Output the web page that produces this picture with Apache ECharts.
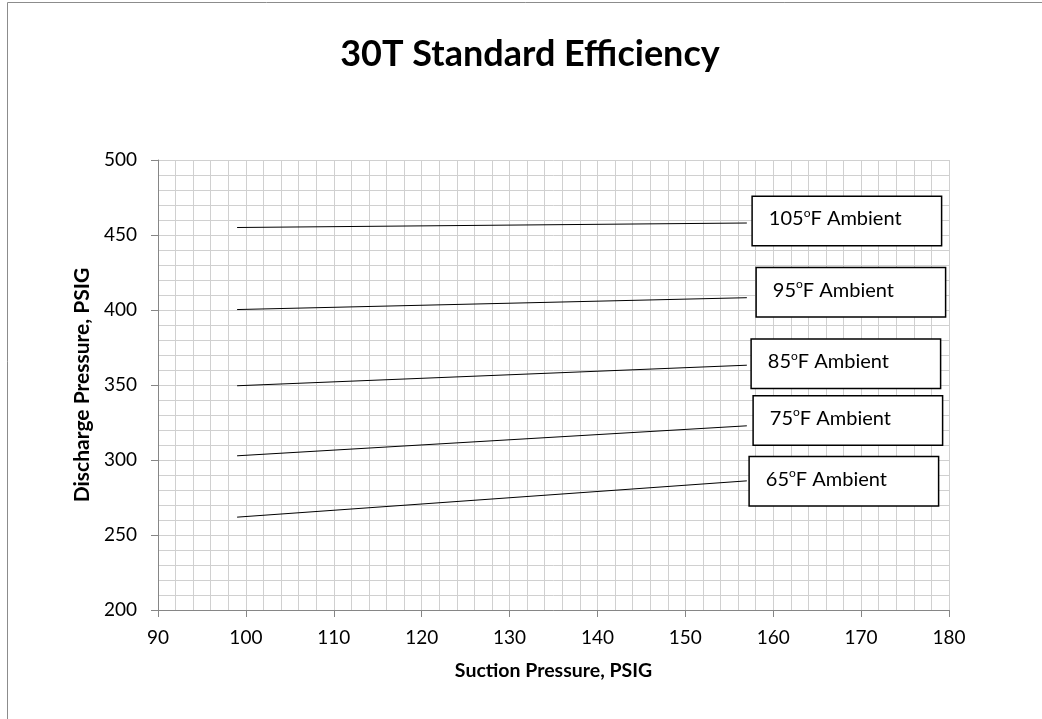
<!DOCTYPE html>
<html>
<head>
<meta charset="utf-8">
<script src="https://cdn.jsdelivr.net/npm/echarts@6/dist/echarts.min.js"></script>
<style>
html,body{margin:0;padding:0;background:#fff;}
#chart{width:1042px;height:719px;}
</style>
</head>
<body>
<div id="chart"></div>
<script>
// ---- data ----
const chartTitle = '30T Standard Efficiency';
const xAxisName = 'Suction Pressure, PSIG';
const yAxisName = 'Discharge Pressure, PSIG';
const suction = [99, 157];
const amb105 = [455, 458];
const amb95 = [400.3, 408.2];
const amb85 = [349.5, 363.2];
const amb75 = [302.8, 322.8];
const amb65 = [261.9, 286.1];
const ambientTemps = ['105', '95', '85', '75', '65'];
const xTicks = [90, 100, 110, 120, 130, 140, 150, 160, 170, 180];
const yTicks = [200, 250, 300, 350, 400, 450, 500];

const FONT = 'Lato, "Open Sans", sans-serif';
const chart = echarts.init(document.getElementById('chart'), null, {renderer: 'canvas'});

function makeSeries(values, temp, offset) {
  return {
    type: 'line',
    name: temp + 'F',
    data: values.map((v, i) => [suction[i], v]),
    symbol: 'none',
    showSymbol: false,
    lineStyle: {color: '#000', width: 1},
    silent: true,
    animation: false,
    endLabel: {
      show: true,
      distance: 0,
      offset: offset,
      formatter: () => '{t|' + temp + '}{s|o}{t|F Ambient}',
      backgroundColor: '#fff',
      borderColor: '#000',
      borderWidth: 1.5,
      padding: [0, 0, 0, 16],
      width: 172,
      height: 48,
      lineHeight: 48,
      align: 'left',
      verticalAlign: 'middle',
      rich: {
        t: {fontFamily: FONT, fontSize: 20, color: '#000', lineHeight: 44},
        s: {fontFamily: FONT, fontSize: 12, color: '#000', lineHeight: 44, padding: [0, 0, 12, 0]}
      }
    }
  };
}

const option = {
  animation: false,
  backgroundColor: '#fff',
  title: {
    text: chartTitle,
    left: 525,
    textAlign: 'center',
    top: 31,
    textStyle: {fontFamily: FONT, fontSize: 36, fontWeight: 'bold', color: '#000'}
  },
  graphic: [{
    type: 'rect',
    shape: {x: 7.5, y: 2.5, width: 1100, height: 800},
    style: {fill: 'none', stroke: '#8c8c8c', lineWidth: 1},
    silent: true,
    z: -10
  }],
  grid: {left: 158, right: 93, top: 160, bottom: 109, containLabel: false},
  xAxis: {
    type: 'value',
    min: xTicks[0],
    max: xTicks[xTicks.length - 1],
    interval: 10,
    name: xAxisName,
    nameLocation: 'middle',
    nameGap: 51,
    nameTextStyle: {fontFamily: FONT, fontSize: 19.5, fontWeight: 'bold', color: '#000'},
    axisLine: {show: true, onZero: false, lineStyle: {color: '#868686', width: 1}},
    axisTick: {show: true, length: 7, lineStyle: {color: '#868686'}},
    axisLabel: {fontFamily: FONT, fontSize: 19, color: '#000', margin: 18},
    splitLine: {show: true, lineStyle: {color: '#d0d0d0', width: 1}},
    minorTick: {show: false, splitNumber: 5},
    minorSplitLine: {show: true, lineStyle: {color: '#d0d0d0', width: 1}}
  },
  yAxis: {
    type: 'value',
    min: yTicks[0],
    max: yTicks[yTicks.length - 1],
    interval: 50,
    name: yAxisName,
    nameLocation: 'middle',
    nameGap: 62,
    nameTextStyle: {fontFamily: FONT, fontSize: 21, fontWeight: 'bold', color: '#000'},
    axisLine: {show: true, onZero: false, lineStyle: {color: '#868686', width: 1}},
    axisTick: {show: true, length: 7, lineStyle: {color: '#868686'}},
    axisLabel: {fontFamily: FONT, fontSize: 19, color: '#000', margin: 21},
    splitLine: {show: true, lineStyle: {color: '#d0d0d0', width: 1}},
    minorTick: {show: false, splitNumber: 5},
    minorSplitLine: {show: true, lineStyle: {color: '#d0d0d0', width: 1}}
  },
  series: [
    makeSeries(amb105, ambientTemps[0], [6, -2]),
    makeSeries(amb95, ambientTemps[1], [10, -5.5]),
    makeSeries(amb85, ambientTemps[2], [5, -1.5]),
    makeSeries(amb75, ambientTemps[3], [7, -5.3]),
    makeSeries(amb65, ambientTemps[4], [3, 0.3])
  ]
};
chart.setOption(option);
</script>
</body>
</html>
